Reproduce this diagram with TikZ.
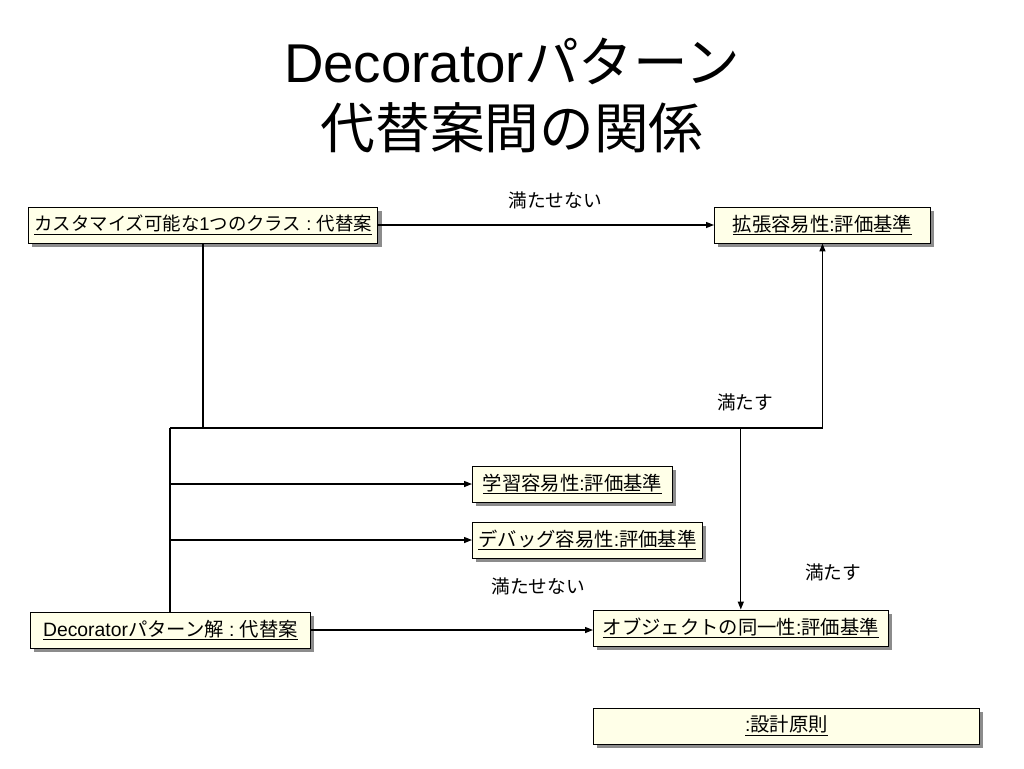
\documentclass[tikz,border=0pt]{standalone}
\usepackage{fontspec}
\setmainfont{Noto Sans CJK JP}
\newfontfamily\latinfont{Liberation Sans}
\usetikzlibrary{arrows.meta,shadows}
\definecolor{umlBoxFill}{HTML}{FFFFE8}
\begin{document}
\begin{tikzpicture}[x=0.75pt, y=-0.75pt,
    every node/.style={font=\fontsize{14}{17}\selectfont},
    umlbox/.style={draw, line width=0.7pt, fill=umlBoxFill, anchor=west,
      minimum height=27pt, inner xsep=3pt, font=\fontsize{14.5}{17}\selectfont,
      drop shadow={shadow xshift=3pt, shadow yshift=-3pt, fill=black!45, opacity=1}},
    link/.style={line width=1pt},
    arr/.style={link, -{Triangle[length=6pt,width=4.5pt]}}]
    \useasboundingbox (0,0) rectangle (1024,768);
    \node[align=center, font=\fontsize{41}{49.5}\selectfont] (title) at (512,95)
        {{\latinfont Decorator}パターン\\代替案間の関係};

    \node[umlbox, minimum width=262pt, font=\fontsize{13.8}{17}\selectfont] (custom) at (28,225) {\underline{カスタマイズ可能な{\latinfont 1}つのクラス{\latinfont\ :\ }代替案}};
    \node[umlbox, minimum width=162pt] (extend) at (714,225) {\underline{拡張容易性{\latinfont :}評価基準}};
    \node[umlbox, minimum width=150pt] (learn) at (472,484) {\underline{学習容易性{\latinfont :}評価基準}};
    \node[umlbox, minimum width=172.5pt] (debug) at (472,540) {\underline{デバッグ容易性{\latinfont :}評価基準}};
    \node[umlbox, minimum width=210pt] (decor) at (30,630) {\underline{{\latinfont Decorator}パターン解{\latinfont\ :\ }代替案}};
    \node[umlbox, minimum width=221pt] (ident) at (593,628) {\underline{オブジェクトの同一性{\latinfont :}評価基準}};
    \node[umlbox, minimum width=289.5pt] (principle) at (593,726) {\underline{{\latinfont :}設計原則}};

    \coordinate (busL) at (170,428);

    \draw[arr] (custom.east) -- (extend.west);
    \node (noA) at (555,200) {満たせない};
    \draw[link] (custom.south) -- (custom.south |- busL);
    \draw[link] (decor.north -| busL) -- (busL);
    \draw[arr] (busL) -- (busL -| extend.south) -- (extend.south);
    \node (yesA) at (745,402) {満たす};
    \draw[arr] (busL |- learn.west) -- (learn.west);
    \draw[arr] (busL |- debug.west) -- (debug.west);
    \draw[arr] (ident.north |- busL) -- (ident.north);
    \node (yesB) at (833,572) {満たす};
    \draw[arr] (decor.east) -- (decor.east -| ident.west);
    \node (noB) at (538,586) {満たせない};
\end{tikzpicture}
\end{document}
